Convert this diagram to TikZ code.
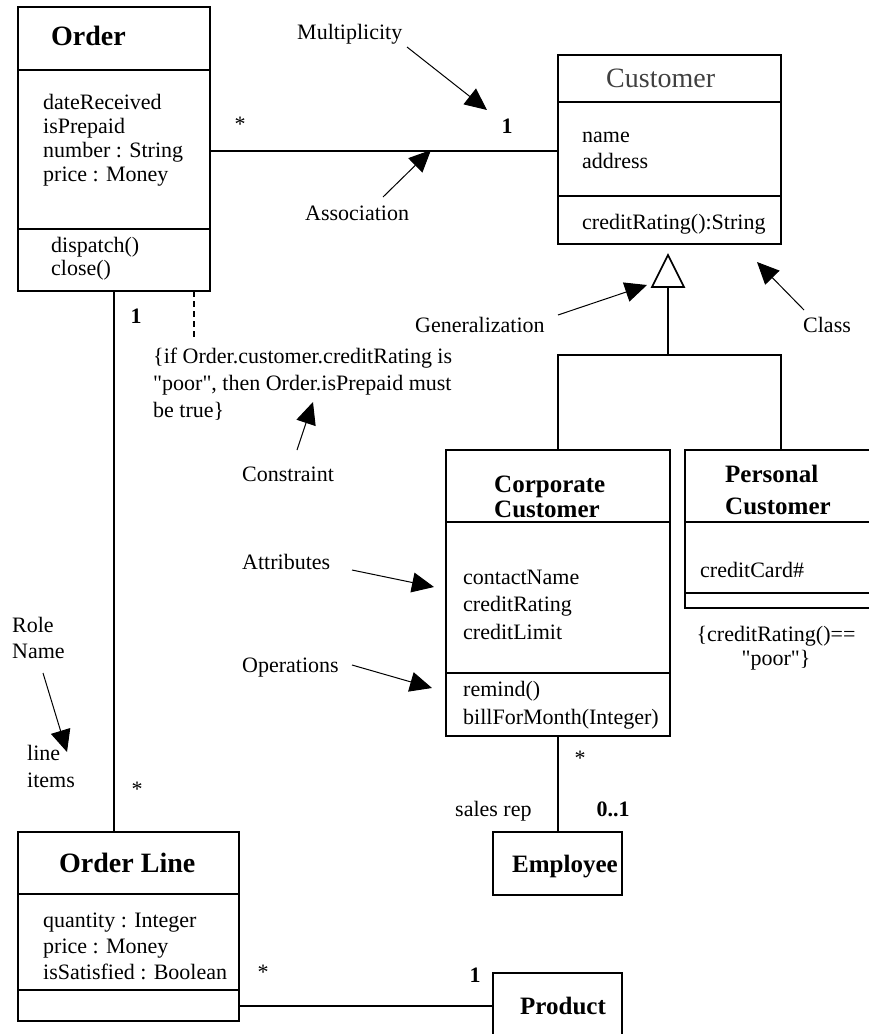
\documentclass[tikz,border=0pt]{standalone}
\usepackage{fontspec}
\setmainfont{Liberation Serif}[Ligatures=TeXOff]
\usetikzlibrary{arrows.meta}
% several left-aligned lines whose first baseline is the node's base
\newcommand\cellstack[1]{\begin{tabular}[t]{@{}l@{}}#1\end{tabular}}
\newcommand\centerstack[1]{\begin{tabular}[t]{@{}c@{}}#1\end{tabular}}
% straight double quote
\newcommand\dq{"}
\begin{document}
\begin{tikzpicture}[x=1pt,y=-1pt,
  box/.style={draw, line width=1.6pt, inner sep=0pt, outer sep=0pt, anchor=north west},
  wire/.style={line width=1.6pt},
  txt/.style={inner sep=0pt, anchor=base west, font=\fontsize{22}{#1}\selectfont},
  txt/.default=25,
  head/.style={inner sep=0pt, anchor=base west, font=\fontsize{#1}{30}\selectfont\bfseries},
  head/.default=25,
  multlabel/.style={inner sep=0pt, anchor=base, font=\fontsize{22}{25}\selectfont},
  note/.style={-{Triangle[length=22pt,width=20pt]}, line width=1pt},
]
\useasboundingbox (0,0) rectangle (869,1034);

% ---------- class boxes ----------
\node[box, minimum width=192pt, minimum height=284pt] (order) at (18,7) {};
\node[box, minimum width=223pt, minimum height=189pt] (customer) at (558,55) {};
\node[box, minimum width=224pt, minimum height=286pt] (corp) at (446,450) {};
\node[box, minimum width=200pt, minimum height=158pt] (pers) at (685,450) {};
\node[box, minimum width=129pt, minimum height=63pt] (employee) at (493,832) {};
\node[box, minimum width=221pt, minimum height=189pt] (orderline) at (18,832) {};
\node[box, minimum width=129pt, minimum height=80pt] (product) at (493,973) {};

% compartment separators
\draw[wire] (order.west |- 0,70) -- (order.east |- 0,70);
\draw[wire] (order.west |- 0,229) -- (order.east |- 0,229);
\draw[wire] (customer.west |- 0,102) -- (customer.east |- 0,102);
\draw[wire] (customer.west |- 0,196) -- (customer.east |- 0,196);
\draw[wire] (corp.west |- 0,522) -- (corp.east |- 0,522);
\draw[wire] (corp.west |- 0,673) -- (corp.east |- 0,673);
\draw[wire] (pers.west |- 0,522) -- (pers.east |- 0,522);
\draw[wire] (pers.west |- 0,593) -- (pers.east |- 0,593);
\draw[wire] (orderline.west |- 0,894) -- (orderline.east |- 0,894);
\draw[wire] (orderline.west |- 0,990) -- (orderline.east |- 0,990);

% ---------- class contents ----------
\node[head=28] (orderName) at (51,45) {Order};
\node[txt=24.3] (orderAttr) at (43,109) {\cellstack{dateReceived\\isPrepaid\\number : String\\price : Money}};
\node[txt=23] (orderOps) at (51,252) {\cellstack{dispatch()\\close()}};

\node[inner sep=0pt, anchor=base west, font=\fontsize{28}{30}\selectfont, text=black!75] (custName) at (606,87) {Customer};
\node[txt=26] (custAttr) at (582,142) {\cellstack{name\\address}};
\node[txt] (custOps) at (582,229) {creditRating():String};

\node[inner sep=0pt, anchor=base west, font=\fontsize{25}{25}\selectfont\bfseries] (corpName) at (494,492) {\cellstack{Corporate\\Customer}};
\node[txt=27.5] (corpAttr) at (463,584) {\cellstack{contactName\\creditRating\\creditLimit}};
\node[txt=28] (corpOps) at (463,696) {\cellstack{remind()\\billForMonth(Integer)}};

\node[inner sep=0pt, anchor=base west, font=\fontsize{25}{32}\selectfont\bfseries] (persName) at (725,482) {\cellstack{Personal\\Customer}};
\node[txt] (persAttr) at (700,577) {creditCard\#};
\node[inner sep=0pt, anchor=base, font=\fontsize{22}{24}\selectfont] (persRule) at (776,641) {\centerstack{\{creditRating()==\\\dq poor\dq\}}};

\node[head=28] (olName) at (59,872) {Order Line};
\node[txt=26] (olAttr) at (43,927) {\cellstack{quantity : Integer\\price : Money\\isSatisfied : Boolean}};

\node[head] (empName) at (512,872) {Employee};
\node[head] (prodName) at (520,1014) {Product};

% ---------- relationships ----------
% association Order -- Customer
\draw[wire] (order.east |- 0,151) -- (customer.west |- 0,151);
% Order -- Order Line
\draw[wire] (order.south -| 114,0) -- (orderline.north -| 114,0);
% constraint note attachment
\coordinate (noteEnd) at (194,337);
\draw[wire, dash pattern=on 6pt off 4pt] (order.south -| 194,0) -- (noteEnd);
% Corporate Customer -- Employee
\draw[wire] (corp.south -| 558,0) -- (employee.north -| 558,0);
% Order Line -- Product
\draw[wire] (orderline.east |- 0,1006) -- (product.west |- 0,1006);

% generalization tree
\coordinate (genTip) at (668,255);
\coordinate (genBase) at (668,287);
\coordinate (genJoin) at (668,355);
\draw[wire, fill=white, line join=miter] (genTip) -- (684,287) -- (652,287) -- cycle;
\draw[wire] (genBase) -- (genJoin);
\draw[wire] (corp.north -| 558,0) -- (558,355) -- (781,355) -- (pers.north -| 781,0);

% multiplicities and role names
\node[multlabel] (mOrderStar) at (240,131) {*};
\node[multlabel, font=\fontsize{22}{25}\selectfont\bfseries] (mCustOne) at (507,133) {1};
\node[multlabel, font=\fontsize{22}{25}\selectfont\bfseries] (mOrderOne) at (136,323) {1};
\node[multlabel] (mLineStar) at (137,796) {*};
\node[multlabel] (mProdStar) at (263,979) {*};
\node[multlabel] (mCorpStar) at (580,765) {*};
\node[multlabel, font=\fontsize{22}{25}\selectfont\bfseries] (mEmpOpt) at (613,816) {0..1};
\node[multlabel, font=\fontsize{22}{25}\selectfont\bfseries] (mProdOne) at (475,982) {1};
\node[txt=27] (roleItems) at (27,760) {\cellstack{line\\items}};
\node[txt] (roleRep) at (455,816) {sales rep};

% constraint text
\node[txt=27] (constraintText) at (153,363) {\cellstack{\{if Order.customer.creditRating is\\\dq poor\dq, then Order.isPrepaid must\\be true\}}};

% ---------- explanatory labels ----------
\node[txt] (lblMult) at (297,39) {Multiplicity};
\node[txt] (lblAssoc) at (305,220) {Association};
\node[txt] (lblGen) at (415,332) {Generalization};
\node[txt] (lblClass) at (803,332) {Class};
\node[txt] (lblConstraint) at (242,481) {Constraint};
\node[txt] (lblAttr) at (242,569) {Attributes};
\node[txt] (lblOps) at (242,672) {Operations};
\node[txt=26] (lblRole) at (12,632) {\cellstack{Role\\Name}};

\coordinate (multFrom) at (407,47);   \coordinate (multTo) at (487,110);
\coordinate (assocFrom) at (383,197); \coordinate (assocTo) at (431,150);
\coordinate (genFrom) at (558,315);   \coordinate (genTo) at (647,285);
\coordinate (classFrom) at (804,310); \coordinate (classTo) at (757,262);
\coordinate (consFrom) at (297,450);  \coordinate (consTo) at (313,402);
\coordinate (attrFrom) at (352,570);  \coordinate (attrTo) at (434,587);
\coordinate (opsFrom) at (352,665);   \coordinate (opsTo) at (432,688);
\coordinate (roleFrom) at (43,673);   \coordinate (roleTo) at (67,752);

\draw[note] (multFrom) -- (multTo);
\draw[note] (assocFrom) -- (assocTo);
\draw[note] (genFrom) -- (genTo);
\draw[note] (classFrom) -- (classTo);
\draw[note] (consFrom) -- (consTo);
\draw[note] (attrFrom) -- (attrTo);
\draw[note] (opsFrom) -- (opsTo);
\draw[note] (roleFrom) -- (roleTo);
\end{tikzpicture}
\end{document}
